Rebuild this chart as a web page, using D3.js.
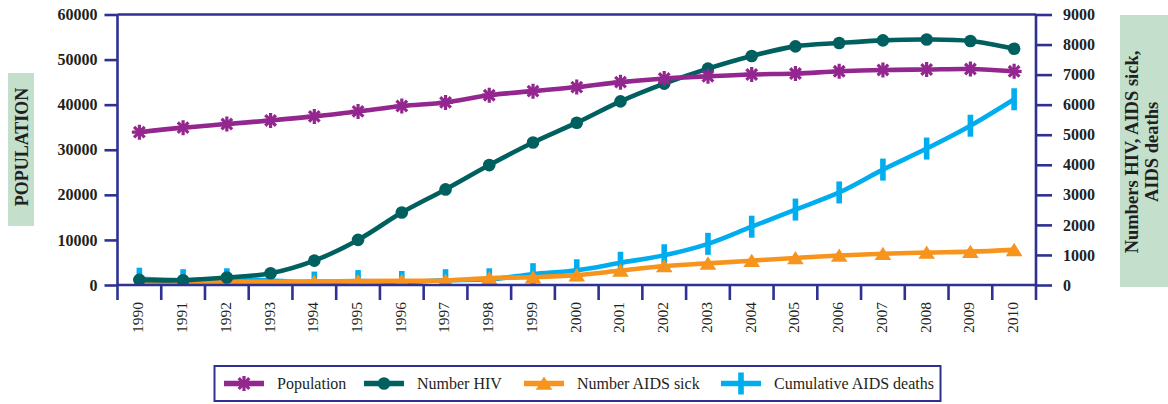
<!DOCTYPE html>
<html>
<head>
<meta charset="utf-8">
<script src="https://cdn.jsdelivr.net/npm/d3@7"></script>
<style>
    body { margin: 0; background: #fff; }
    svg { display: block; font-family: "Liberation Serif", "Times New Roman", serif; }
</style>
</head>
<body>
<div id="chart"></div>
<script>
'use strict';
    //data
    const years = ["1990", "1991", "1992", "1993", "1994", "1995", "1996", "1997", "1998", "1999", "2000",
        "2001", "2002", "2003", "2004", "2005", "2006", "2007", "2008", "2009", "2010"];
    //left axis
    const population = [33900, 34900, 35700, 36500, 37400, 38500, 39700, 40500, 42100, 43000, 43900,
        45000, 45800, 46300, 46700, 46900, 47400, 47700, 47800, 47900, 47400];
    //right axis
    const numberHIV = [170, 160, 250, 390, 810, 1500, 2410, 3180, 3990, 4740, 5400,
        6110, 6700, 7200, 7620, 7940, 8050, 8140, 8170, 8120, 7860];
    const aidsSick = [60, 80, 100, 110, 120, 130, 140, 150, 230, 260, 330,
        480, 630, 720, 810, 900, 980, 1040, 1080, 1110, 1170];
    const aidsDeaths = [210, 160, 190, 150, 80, 130, 100, 160, 190, 360, 490,
        740, 990, 1370, 1940, 2510, 3080, 3840, 4540, 5300, 6180];
    const leftTicks = [0, 10000, 20000, 30000, 40000, 50000, 60000];
    const rightTicks = [0, 1000, 2000, 3000, 4000, 5000, 6000, 7000, 8000, 9000];
    const seriesNames = ["Population", "Number HIV", "Number AIDS sick", "Cumulative AIDS deaths"];

    const navy = "#2e3192";
    const colors = {
        "Population": "#93278f",
        "Number HIV": "#00605f",
        "Number AIDS sick": "#f7941d",
        "Cumulative AIDS deaths": "#00aeef"
    };

    const W = 1168, H = 404;
    const margin = { left: 117.5, right: 132, top: 14.5, bottom: 119 };
    const width = W - margin.left - margin.right;
    const height = H - margin.top - margin.bottom;

    const x = d3.scaleBand().domain(years).range([0, width]).paddingInner(0).paddingOuter(0);
    const yL = d3.scaleLinear().domain([0, 60000]).range([height, 0]);
    const yR = d3.scaleLinear().domain([0, 9000]).range([height, 0]);
    const cx = function(d) { return x(d) + x.bandwidth() / 2; };

    const svg = d3.select("#chart").append("svg")
        .attr("width", W)
        .attr("height", H);
    const g = svg.append("g")
        .attr("transform", "translate(" + margin.left + "," + margin.top + ")");

    svg.append("defs").append("clipPath").attr("id", "plotclip")
        .append("rect").attr("x", -4).attr("y", -4).attr("width", width + 8).attr("height", height + 4);

    //marker shapes
    function drawMarker(sel, name, col) {
        if (name === "Population") {
            [0, 45, 90, 135].forEach(function(a) {
                sel.append("line")
                    .attr("x1", -7.5).attr("x2", 7.5)
                    .attr("transform", "rotate(" + a + ")")
                    .attr("stroke", col).attr("stroke-width", 3.2);
            });
        } else if (name === "Number HIV") {
            sel.append("circle").attr("r", 6.3).attr("fill", col);
        } else if (name === "Number AIDS sick") {
            sel.append("path").attr("d", "M0,-7L8.3,6.3L-8.3,6.3Z").attr("fill", col);
        } else {
            sel.append("rect").attr("x", -2.8).attr("y", -11).attr("width", 5.6).attr("height", 22).attr("fill", col);
        }
    }

    const series = [
        { name: "Cumulative AIDS deaths", values: aidsDeaths, y: yR },
        { name: "Number AIDS sick", values: aidsSick, y: yR },
        { name: "Number HIV", values: numberHIV, y: yR },
        { name: "Population", values: population, y: yL }
    ];

    const plot = g.append("g").attr("clip-path", "url(#plotclip)");
    series.forEach(function(s) {
        const pts = years.map(function(yr, i) { return [cx(yr), s.y(s.values[i])]; });
        const line = d3.line().curve(d3.curveCatmullRom.alpha(0.5));
        plot.append("path")
            .attr("d", line(pts))
            .attr("fill", "none")
            .attr("stroke", colors[s.name])
            .attr("stroke-width", 4.6)
            .attr("stroke-linejoin", "round");
        pts.forEach(function(p) {
            const m = plot.append("g").attr("transform", "translate(" + p[0] + "," + p[1] + ")");
            drawMarker(m, s.name, colors[s.name]);
        });
    });

    //axes
    const axisStroke = 2.6;
    const tickDrop = 15;
    //left axis
    const leftAxis = g.append("g")
        .call(d3.axisLeft(yL).tickValues(leftTicks).tickSize(13).tickPadding(7).tickFormat(d3.format("d")));
    //right axis
    const rightAxis = g.append("g")
        .attr("transform", "translate(" + width + ",0)")
        .call(d3.axisRight(yR).tickValues(rightTicks).tickSize(16).tickPadding(11).tickFormat(d3.format("d")));
    [leftAxis, rightAxis].forEach(function(a) {
        a.select(".domain").remove();
        a.selectAll(".tick line").attr("stroke", navy).attr("stroke-width", axisStroke);
        a.selectAll(".tick text")
            .attr("fill", "#231f20")
            .style("font-family", "Liberation Serif")
            .style("font-size", "16px")
            .style("font-weight", "bold");
    });
    //vertical axis lines, running down past the x axis
    [0, width].forEach(function(px) {
        g.append("line")
            .attr("x1", px).attr("x2", px)
            .attr("y1", 0).attr("y2", height + tickDrop)
            .attr("stroke", navy).attr("stroke-width", axisStroke);
    });
    //top border and x axis line
    [0, height].forEach(function(py) {
        g.append("line")
            .attr("x1", 0).attr("x2", width)
            .attr("y1", py).attr("y2", py)
            .attr("stroke", navy).attr("stroke-width", axisStroke);
    });
    //x ticks at the band boundaries
    g.selectAll(".xtick")
        .data(years.slice(1))
        .enter().append("line")
        .attr("class", "xtick")
        .attr("x1", function(d) { return x(d); })
        .attr("x2", function(d) { return x(d); })
        .attr("y1", height)
        .attr("y2", height + tickDrop)
        .attr("stroke", navy).attr("stroke-width", axisStroke);
    //x labels, rotated
    g.selectAll(".xlab")
        .data(years)
        .enter().append("text")
        .attr("class", "xlab")
        .attr("transform", function(d) { return "translate(" + (cx(d) - 1.5) + "," + (height + 17) + ") rotate(-90)"; })
        .attr("dy", "0.35em")
        .style("text-anchor", "end")
        .style("font-size", "15.5px")
        .attr("fill", "#231f20")
        .text(function(d) { return d; });

    //axis titles in green boxes
    const boxFill = "#c4e0cd";
    svg.append("rect").attr("x", 8).attr("y", 73).attr("width", 26).attr("height", 153).attr("fill", boxFill);
    svg.append("text")
        .attr("transform", "translate(21.5,147) rotate(-90)")
        .attr("dy", "0.35em")
        .style("text-anchor", "middle")
        .style("font-size", "18px")
        .style("font-weight", "bold")
        .attr("fill", "#231f20")
        .text("POPULATION");
    svg.append("rect").attr("x", 1120).attr("y", 15).attr("width", 48).attr("height", 272).attr("fill", boxFill);
    const rTitle = svg.append("text")
        .attr("transform", "translate(1143,152) rotate(-90)")
        .style("text-anchor", "middle")
        .style("font-size", "18.5px")
        .style("font-weight", "bold")
        .attr("fill", "#231f20");
    rTitle.append("tspan").attr("x", 0).attr("dy", "-0.25em").text("Numbers HIV, AIDS sick,");
    rTitle.append("tspan").attr("x", 0).attr("dy", "1.05em").text("AIDS deaths");

    //legend
    const legendNames = seriesNames;
    const legendX = [224, 364, 524, 721];
    const legend = svg.append("g");
    legend.append("rect")
        .attr("x", 214.5).attr("y", 366).attr("width", 726).attr("height", 35)
        .attr("fill", "#fff").attr("stroke", navy).attr("stroke-width", 2);
    legendNames.forEach(function(name, i) {
        const it = legend.append("g").attr("transform", "translate(" + legendX[i] + ",383.5)");
        it.append("line").attr("x1", 0).attr("x2", 40)
            .attr("stroke", colors[name]).attr("stroke-width", 5.5);
        drawMarker(it.append("g").attr("transform", "translate(20,0)"), name, colors[name]);
        it.append("text")
            .attr("x", 53)
            .attr("dy", "0.35em")
            .style("font-size", "16px")
            .attr("fill", "#231f20")
            .text(name);
    });
</script>
</body>
</html>
